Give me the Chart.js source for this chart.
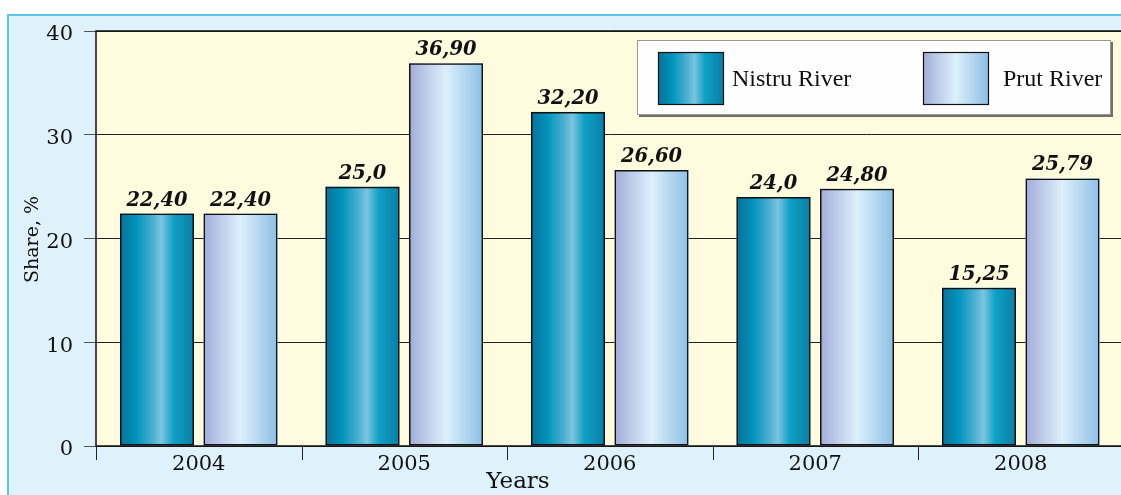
<!DOCTYPE html>
<html>
<head>
<meta charset="utf-8">
<script src="https://cdn.jsdelivr.net/npm/chart.js@4.4.1/dist/chart.umd.min.js"></script>
<style>
  html, body { margin: 0; padding: 0; background: #ffffff; overflow: hidden; }
  #wrap { position: relative; width: 1135px; height: 495px; }
</style>
</head>
<body>
<div id="wrap"><canvas id="shareChart" width="1135" height="495"></canvas></div>
<script>
// Dữ liệu
const years = ['2004', '2005', '2006', '2007', '2008'];
const nistruValues = [22.40, 25.0, 32.20, 24.0, 15.25];
const prutValues = [22.40, 36.90, 26.60, 24.80, 25.79];
const nistruLabels = ['22,40', '25,0', '32,20', '24,0', '15,25'];
const prutLabels = ['22,40', '36,90', '26,60', '24,80', '25,79'];
const yTicks = [0, 10, 20, 30, 40];

const SERIF = '"DejaVu Serif", serif';
const TIMES = '"Liberation Serif", serif';

// gradient stops per series
const gradStops = [
    [[0, '#0b7199'], [0.22, '#0093bb'], [0.45, '#4fb0d2'], [0.56, '#7cc5df'], [0.72, '#10a0c6'], [1, '#0a7ea6']],
    [[0, '#a2abd7'], [0.28, '#c5d3ee'], [0.5, '#ddf0fb'], [0.75, '#b5d8f0'], [1, '#8ebfe6']]
];

function makeGrad(ctx, x0, x1, idx) {
    const g = ctx.createLinearGradient(x0, 0, x1, 0);
    gradStops[idx].forEach(s => g.addColorStop(s[0], s[1]));
    return g;
}

// --- Nền, khung, legend, nhãn ---
const decorPlugin = {
    id: 'decor',
    beforeDraw(chart) {
        const { ctx, chartArea: a } = chart;
        ctx.save();
        // khung xanh nhạt
        ctx.fillStyle = '#dff2fb';
        ctx.fillRect(7, 14, chart.width, chart.height);
        ctx.strokeStyle = '#5cc3ea';
        ctx.lineWidth = 2;
        ctx.beginPath();
        ctx.moveTo(8, chart.height + 2);
        ctx.lineTo(8, 15);
        ctx.lineTo(chart.width + 2, 15);
        ctx.stroke();
        // vùng vẽ màu kem
        ctx.fillStyle = '#fffbdf';
        ctx.fillRect(a.left, a.top, a.right - a.left, a.bottom - a.top);
        ctx.restore();
    },
    beforeDatasetsDraw(chart) {
        const { ctx } = chart;
        ctx.save();
        chart.data.datasets.forEach((ds, di) => {
            const meta = chart.getDatasetMeta(di);
            meta.data.forEach(el => {
                const p = el.getProps(['x', 'y', 'base', 'width']);
                const x0 = p.x - p.width / 2;
                ctx.fillStyle = makeGrad(ctx, x0, x0 + p.width, di);
                ctx.fillRect(x0, p.y, p.width, p.base - p.y);
            });
        });
        ctx.restore();
    },
    afterDatasetsDraw(chart) {
        const { ctx, chartArea: a } = chart;
        ctx.save();
        // viền vùng vẽ
        ctx.strokeStyle = '#111';
        ctx.lineWidth = 1.5;
        ctx.strokeRect(a.left, a.top, a.right - a.left, a.bottom - a.top);

        // vạch chia trục x
        ctx.strokeStyle = '#222';
        ctx.lineWidth = 1;
        const catW = (a.right - a.left) / years.length;
        for (let i = 0; i <= years.length; i++) {
            const x = Math.round(a.left + i * catW) + 0.5;
            ctx.beginPath();
            ctx.moveTo(x, a.bottom);
            ctx.lineTo(x, a.bottom + 14);
            ctx.stroke();
        }

        // nhãn giá trị
        ctx.fillStyle = '#111';
        ctx.font = 'italic bold 19.5px ' + SERIF;
        ctx.textAlign = 'center';
        ctx.textBaseline = 'alphabetic';
        const allLabels = [nistruLabels, prutLabels];
        chart.data.datasets.forEach((ds, di) => {
            chart.getDatasetMeta(di).data.forEach((el, i) => {
                ctx.fillText(allLabels[di][i], el.x, el.y - 8);
            });
        });

        // legend
        const lx = 637, ly = 40, lw = 474, lh = 75;
        ctx.fillStyle = '#6f6f6f';
        ctx.fillRect(lx + 2, ly + 2, lw, lh);
        ctx.fillStyle = '#fefefe';
        ctx.fillRect(lx, ly, lw, lh);
        ctx.strokeStyle = '#999';
        ctx.lineWidth = 1;
        ctx.strokeRect(lx + 0.5, ly + 0.5, lw - 1, lh - 1);
        const items = [{ x: 658, tx: 732 }, { x: 923, tx: 1003 }];
        items.forEach((it, di) => {
            ctx.fillStyle = makeGrad(ctx, it.x, it.x + 65, di);
            ctx.fillRect(it.x, 52, 65, 52);
            ctx.strokeStyle = '#111';
            ctx.lineWidth = 1.2;
            ctx.strokeRect(it.x + 0.5, 52.5, 65, 52);
            ctx.fillStyle = '#111';
            ctx.font = '24px ' + TIMES;
            ctx.textAlign = 'left';
            ctx.fillText(chart.data.datasets[di].label, it.tx, 86);
        });

        // tiêu đề trục
        ctx.font = '23px ' + SERIF;
        ctx.textAlign = 'center';
        ctx.fillText('Years', 518, 488);
        ctx.save();
        ctx.translate(38, (a.top + a.bottom) / 2 + 1);
        ctx.rotate(-Math.PI / 2);
        ctx.font = '19px ' + SERIF;
        ctx.fillText('Share, %', 0, 0);
        ctx.restore();

        ctx.restore();
    }
};

// --- Khởi tạo Biểu đồ ---
const ctx = document.getElementById('shareChart').getContext('2d');
const shareChart = new Chart(ctx, {
    type: 'bar',
    data: {
        labels: years,
        datasets: [
            {
                label: 'Nistru River',
                data: nistruValues,
                backgroundColor: 'rgba(0,0,0,0)',
                borderColor: '#111',
                borderWidth: 1.5,
                borderSkipped: false
            },
            {
                label: 'Prut River',
                data: prutValues,
                backgroundColor: 'rgba(0,0,0,0)',
                borderColor: '#111',
                borderWidth: 1.5,
                borderSkipped: false
            }
        ]
    },
    options: {
        responsive: false,
        animation: false,
        categoryPercentage: 0.813,
        barPercentage: 0.886,
        layout: { padding: { left: 0, top: 31, right: 11.5, bottom: 0 } },
        plugins: {
            legend: { display: false },
            tooltip: { enabled: false }
        },
        scales: {
            x: {
                grid: { display: false },
                border: { display: false },
                ticks: { color: '#111', font: { family: SERIF, size: 21 }, padding: -2 },
                afterFit: (s) => { s.height = 49; }
            },
            y: {
                min: 0,
                max: 40,
                afterBuildTicks: (s) => { s.ticks = yTicks.map(v => ({ value: v })); },
                grid: { color: '#222', lineWidth: 1, tickLength: 12, tickColor: '#555' },
                border: { display: false },
                ticks: { color: '#111', font: { family: SERIF, size: 21 }, padding: 11, labelOffset: 4 },
                afterFit: (s) => { s.width = 96; }
            }
        }
    },
    plugins: [decorPlugin]
});
</script>
</body>
</html>
